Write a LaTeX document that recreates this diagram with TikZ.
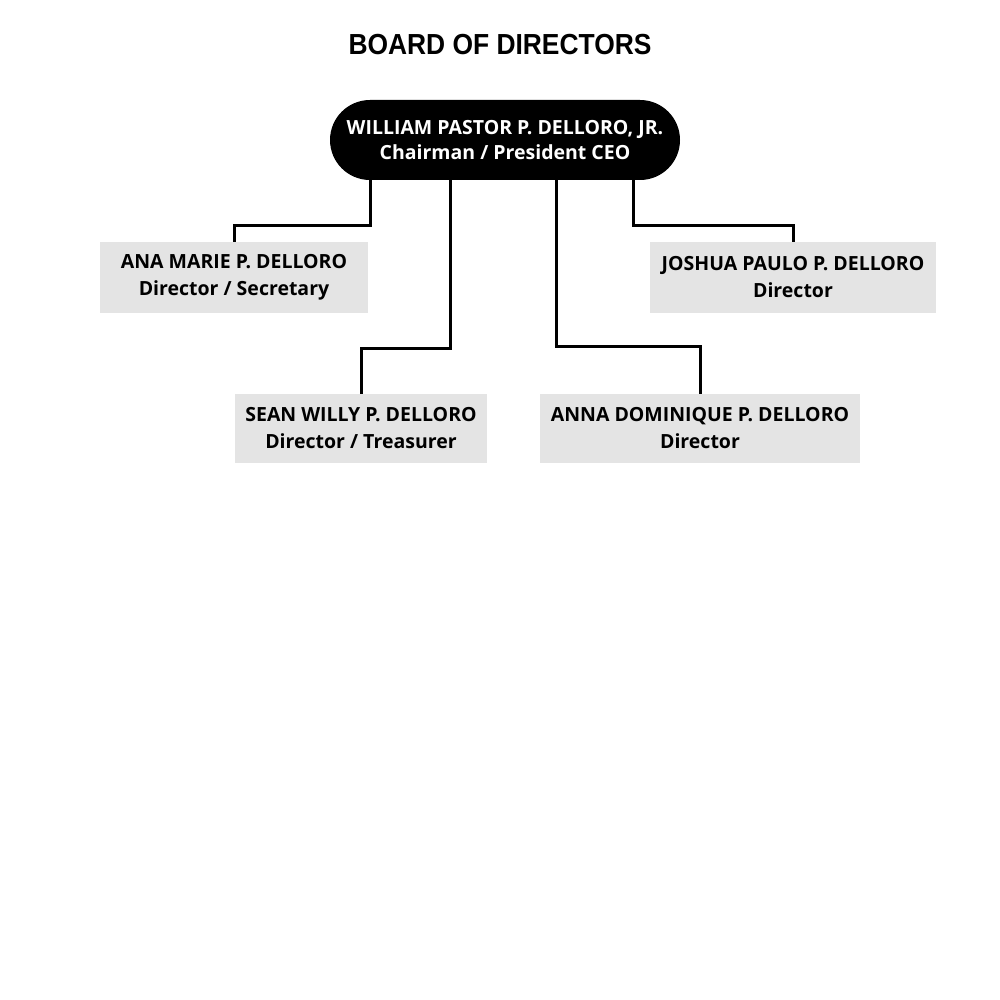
\documentclass[tikz,border=0pt]{standalone}
\usepackage{fontspec}
\setmainfont{Open Sans}
\newfontfamily\titlefont{Liberation Sans}
\definecolor{boxgray}{HTML}{E4E4E4}
\begin{document}
\begin{tikzpicture}[x=1pt,y=-1pt,
  member/.style={fill=boxgray, draw=none, minimum height=71pt, align=center,
    font=\fontsize{19.5}{27}\selectfont\bfseries, inner sep=0pt},
  chief/.style={fill=black, text=white, rounded corners=40pt, minimum width=350pt,
    minimum height=80pt, align=center, font=\fontsize{19.5}{25}\selectfont\bfseries, inner sep=0pt},
  link/.style={line width=3pt, line join=miter}]
\useasboundingbox (0,0) rectangle (1000,1000);
\node[font=\titlefont\fontsize{29}{30}\selectfont\bfseries, xscale=0.91, transform shape] (title) at (500,45) {BOARD OF DIRECTORS};
\node[chief] (ceo) at (505,140) {WILLIAM PASTOR P. DELLORO, JR.\\Chairman / President CEO};
\node[member, minimum width=268pt] (ana) at (234,277.5) {ANA MARIE P. DELLORO\\Director / Secretary};
\node[member, minimum width=286pt] (josh) at (793,277.5) {JOSHUA PAULO P. DELLORO\\Director};
\node[member, minimum width=252pt, minimum height=69pt] (sean) at (361,428.5) {SEAN WILLY P. DELLORO\\Director / Treasurer};
\node[member, minimum width=320pt, minimum height=69pt] (anna) at (700,428.5) {ANNA DOMINIQUE P. DELLORO\\Director};
\draw[link] (ceo.south -| 370,0) |- (234,226) -- (ana.north);
\draw[link] (ceo.south -| 450,0) |- (361,348) -- (sean.north);
\draw[link] (ceo.south -| 556,0) |- (700,346) -- (anna.north);
\draw[link] (ceo.south -| 633,0) |- (793,226) -- (josh.north);
\end{tikzpicture}
\end{document}
